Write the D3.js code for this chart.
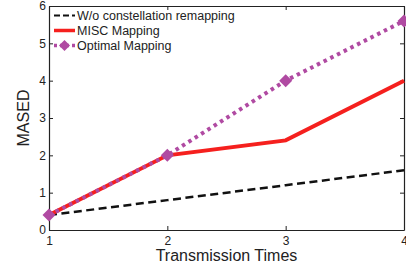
<!DOCTYPE html>
<html>
<head>
<meta charset="utf-8">
<script src="https://cdn.jsdelivr.net/npm/d3@7"></script>
<style>
	body { margin: 0; background: #fff; }
	svg { display: block; font-family: "Liberation Sans", Arial, sans-serif; }
</style>
</head>
<body>
<div id="chart"></div>
<script>
const times = [1, 2, 3, 4];
const noRemap = [0.4, 0.8, 1.2, 1.6];
const miscMapping = [0.4, 2.0, 2.4, 4.0];
const optimalMapping = [0.4, 2.0, 4.0, 5.6];
const yTicks = [0, 1, 2, 3, 4, 5, 6];

const width = 406, height = 265;
const margin = {left: 49, right: 2, top: 6, bottom: 35};

const svg = d3.select('#chart').append('svg')
	.attr('width', width)
	.attr('height', height);

const x = d3.scaleLinear().domain([1, 4]).range([margin.left, width - margin.right]);
const y = d3.scaleLinear().domain([0, 6]).range([height - margin.bottom, margin.top]);

// axes, ticks pointing inward on all four sides
const axisColor = '#222';
const axisBottom = svg.append('g')
	.attr('transform', `translate(0,${y(0)})`)
	.call(d3.axisBottom(x).tickValues(times).tickSizeInner(-4).tickSizeOuter(0).tickPadding(6).tickFormat(d3.format('d')));
const axisLeft = svg.append('g')
	.attr('transform', `translate(${x(1)},0)`)
	.call(d3.axisLeft(y).tickValues(yTicks).tickSizeInner(-4).tickSizeOuter(0).tickPadding(3).tickFormat(d3.format('d')));
const axisTop = svg.append('g')
	.attr('transform', `translate(0,${y(6)})`)
	.call(d3.axisTop(x).tickValues(times).tickSizeInner(-4).tickSizeOuter(0).tickFormat(''));
const axisRight = svg.append('g')
	.attr('transform', `translate(${x(4)},0)`)
	.call(d3.axisRight(y).tickValues(yTicks).tickSizeInner(-4).tickSizeOuter(0).tickFormat(''));

[axisBottom, axisLeft, axisTop, axisRight].forEach(g => {
	g.select('.domain').attr('stroke', axisColor).attr('stroke-width', 1.2);
	g.selectAll('.tick line').attr('stroke', axisColor);
	g.selectAll('text').attr('fill', '#222').style('font-size', '12px').style('font-family', '"Liberation Sans", Arial, sans-serif');
});

const line = d3.line()
	.x((d, i) => x(times[i]))
	.y(d => y(d));

const series = [
	{name: 'W/o constellation remapping', values: noRemap, color: '#111', width: 2.5, dash: '8,4.5', marker: false},
	{name: 'MISC Mapping', values: miscMapping, color: '#f5201e', width: 4, dash: null, marker: false},
	{name: 'Optimal Mapping', values: optimalMapping, color: '#b04aa2', width: 4, dash: '3.5,4', marker: true}
];

series.forEach(s => {
	svg.append('path')
		.datum(s.values)
		.attr('fill', 'none')
		.attr('stroke', s.color)
		.attr('stroke-width', s.width)
		.attr('stroke-dasharray', s.dash)
		.attr('d', line);
});

// square diamond marker like matlab's 'd'
const diamond = 'M0,-6.5L6.5,0L0,6.5L-6.5,0Z';
const opt = series[2];
svg.append('g')
	.selectAll('path')
	.data(opt.values)
	.join('path')
	.attr('transform', (d, i) => `translate(${x(times[i])},${y(d)})`)
	.attr('d', diamond)
	.attr('fill', opt.color);

// legend
const legend = svg.append('g').attr('transform', 'translate(54,15.5)');
series.forEach((s, i) => {
	const row = legend.append('g').attr('transform', `translate(0,${i * 15})`);
	row.append('line')
		.attr('x1', 0).attr('x2', 21)
		.attr('stroke', s.color)
		.attr('stroke-width', s.width === 4 ? 3.5 : 2.2)
		.attr('stroke-dasharray', s.dash ? (i === 0 ? '6,3' : '3,3') : null);
	if (s.marker) {
		row.append('path').attr('transform', 'translate(10.5,0) scale(0.85)').attr('d', diamond).attr('fill', s.color);
	}
	row.append('text')
		.attr('x', 23).attr('y', 4.5)
		.style('font-size', '12.5px')
		.attr('fill', '#222')
		.text(s.name);
});

// axis titles
svg.append('text')
	.attr('x', (x(1) + x(4)) / 2)
	.attr('y', 261)
	.attr('text-anchor', 'middle')
	.style('font-size', '16px')
	.attr('fill', '#222')
	.text('Transmission Times');

svg.append('text')
	.attr('transform', `translate(29,${(y(0) + y(6)) / 2}) rotate(-90)`)
	.attr('text-anchor', 'middle')
	.style('font-size', '16px')
	.attr('fill', '#222')
	.text('MASED');
</script>
</body>
</html>
